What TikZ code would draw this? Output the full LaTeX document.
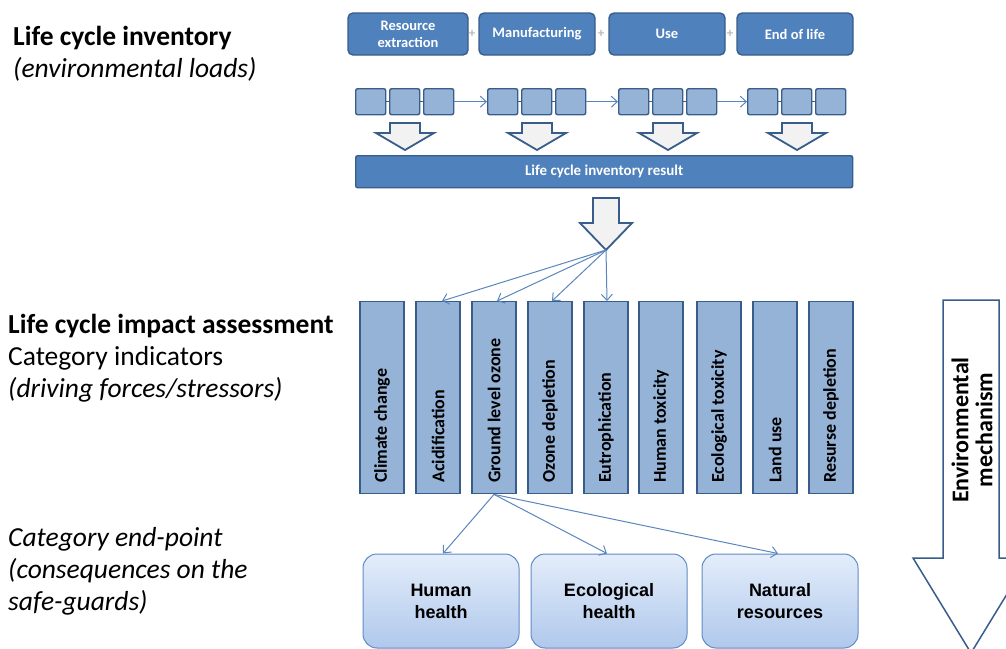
\documentclass[tikz,border=0pt]{standalone}
\usepackage{fontspec}
\setmainfont{Carlito}
\newfontfamily\arialf{Liberation Sans}
\usetikzlibrary{arrows.meta,calc}
\definecolor{darkb}{HTML}{4F81BD}
\definecolor{edgeb}{HTML}{385D8A}
\definecolor{lightb}{HTML}{95B3D7}
\definecolor{arrowb}{HTML}{5A86BE}
\definecolor{grayf}{HTML}{F2F2F2}
\definecolor{epTop}{HTML}{E4EDFA}
\definecolor{epBot}{HTML}{AFC8EC}
\definecolor{epEdge}{HTML}{5F8BC4}
\tikzset{
  stagebox/.style={draw=edgeb, line width=1.4pt, fill=darkb, rounded corners=5pt,
    text=white, font=\fontsize{14.5}{17}\selectfont\bfseries, align=center,
    minimum height=42pt, inner sep=0pt},
  sq/.style={draw=edgeb, line width=1.4pt, fill=lightb, rounded corners=2pt,
    minimum width=30pt, minimum height=26pt, inner sep=0pt},
  catbar/.style={draw=edgeb, line width=1.4pt, fill=lightb,
    minimum width=44pt, minimum height=192pt, inner sep=0pt},
  cattext/.style={rotate=90, anchor=west, inner sep=0pt,
    font=\fontsize{18}{19}\selectfont\bfseries},
  epbox/.style={draw=epEdge, line width=1pt, rounded corners=14pt,
    top color=epTop, bottom color=epBot, minimum width=156pt, minimum height=94pt,
    font=\arialf\fontsize{18}{22}\selectfont\bfseries, align=center, inner sep=0pt},
  fan/.style={draw=arrowb, line width=1pt, -{Straight Barb[length=6pt,width=11pt]}},
  blockarr/.style={draw=edgeb, line width=1.8pt, fill=grayf, line join=miter},
  lefttext/.style={anchor=base west, inner sep=0pt, font=\fontsize{27.5}{32}\selectfont},
  plus/.style={text=gray!55, font=\fontsize{13}{13}\selectfont\bfseries, inner sep=0pt},
  downarrow/.pic={\draw[blockarr] (-15,0) -- (15,0) -- (15,10) -- (29,10) -- (0,27) -- (-29,10) -- (-15,10) -- cycle;}
}
\begin{document}
\begin{tikzpicture}[x=1pt,y=-1pt]
\useasboundingbox (0,0) rectangle (1006,648);
\clip (0,0) rectangle (1006,648);

% left texts
\node[lefttext, font=\fontsize{27.5}{32}\selectfont\bfseries] (t1) at (13,45) {Life cycle inventory};
\node[lefttext, font=\fontsize{27.5}{32}\selectfont\itshape] (t2) at (13,77) {(environmental loads)};
\node[lefttext, font=\fontsize{27.5}{32}\selectfont\bfseries] (t3) at (8,333) {Life cycle impact assessment};
\node[lefttext] (t4) at (8,365) {Category indicators};
\node[lefttext, font=\fontsize{27.5}{32}\selectfont\itshape] (t5) at (8,397) {(driving forces/stressors)};
\node[lefttext, font=\fontsize{27.5}{32}\selectfont\itshape] (t6) at (8,546) {Category end-point};
\node[lefttext, font=\fontsize{27.5}{32}\selectfont\itshape] (t7) at (8,578) {(consequences on the};
\node[lefttext, font=\fontsize{27.5}{32}\selectfont\itshape] (t8) at (8,610) {safe-guards)};

% top stage boxes
\node[stagebox, minimum width=120pt] (s1) at (408,34) {Resource\\extraction};
\node[stagebox, minimum width=116pt] (s2) at (537,34) {Manufacturing};
\node[stagebox, minimum width=116pt] (s3) at (667,34) {Use};
\node[stagebox, minimum width=116pt] (s4) at (795,34) {End of life};
\node[plus] (p1) at (472,34) {+};
\node[plus] (p2) at (601,34) {+};
\node[plus] (p3) at (730,34) {+};

% small square groups
\foreach \g/\x in {1/355,2/487,3/618,4/747}{
  \node[sq, anchor=north west] (g\g a) at (\x,88) {};
  \node[sq, anchor=north west] (g\g b) at (\x+34,88) {};
  \node[sq, anchor=north west] (g\g c) at (\x+68,88) {};
  \draw[edgeb, line width=1.4pt] (g\g a.east) -- (g\g b.west) (g\g b.east) -- (g\g c.west);
}
\draw[fan] (g1c.east) -- (g2a.west);
\draw[fan] (g2c.east) -- (g3a.west);
\draw[fan] (g3c.east) -- (g4a.west);

% down block arrows
\pic at (405,123) {downarrow};
\pic at (537,123) {downarrow};
\pic at (668,123) {downarrow};
\pic at (797,123) {downarrow};

% result bar
\node[draw=edgeb, line width=1.4pt, fill=darkb, rounded corners=2pt, minimum width=497pt,
  minimum height=32pt, inner sep=0pt, text=white, font=\fontsize{15}{16}\selectfont\bfseries,
  anchor=north west] (res) at (355,155) {Life cycle inventory result};

% big arrow
\draw[blockarr] (593,198) -- (619,198) -- (619,223) -- (632,223) -- (606,250) -- (580,223) -- (593,223) -- cycle;
\coordinate (tip) at (606,250);

% category bars
\foreach \i/\x/\t in {1/382/Climate change,2/438/Acidification,3/494/Ground level ozone,
  4/550/Ozone depletion,5/606/Eutrophication,6/661/Human toxicity,7/719/Ecological toxicity,
  8/775/Land use,9/831/Resurse depletion}{
  \node[catbar, anchor=north] (c\i) at (\x,301) {};
  \node[cattext] (ct\i) at (\x,483) {\t};
}
\draw[fan] (tip) -- ($(c2.north)+(4,0)$);
\draw[fan] (tip) -- ($(c3.north)+(3,0)$);
\draw[fan] (tip) -- ($(c4.north)+(2,0)$);
\draw[fan] (tip) -- ($(c5.north)+(1,0)$);

% end-point boxes
\node[epbox] (e1) at (441,601) {Human\\health};
\node[epbox] (e2) at (609,601) {Ecological\\health};
\node[epbox] (e3) at (780,601) {Natural\\resources};
\draw[fan] (c3.south) -- ($(e1.north)+(2,0)$);
\draw[fan] (c3.south) -- ($(e2.north)+(-2,0)$);
\draw[fan] (c3.south) -- ($(e3.north)+(-2,0)$);

% environmental mechanism arrow
\draw[blockarr, line width=1.5pt, fill=white] (943,300) -- (999,300) -- (999,558) -- (1029,558) -- (971,653) -- (913,558) -- (943,558) -- cycle;
\node[rotate=90, align=center, inner sep=0pt, font=\fontsize{24}{24}\selectfont\bfseries] (env) at (972,430) {Environmental\\mechanism};
\end{tikzpicture}
\end{document}
